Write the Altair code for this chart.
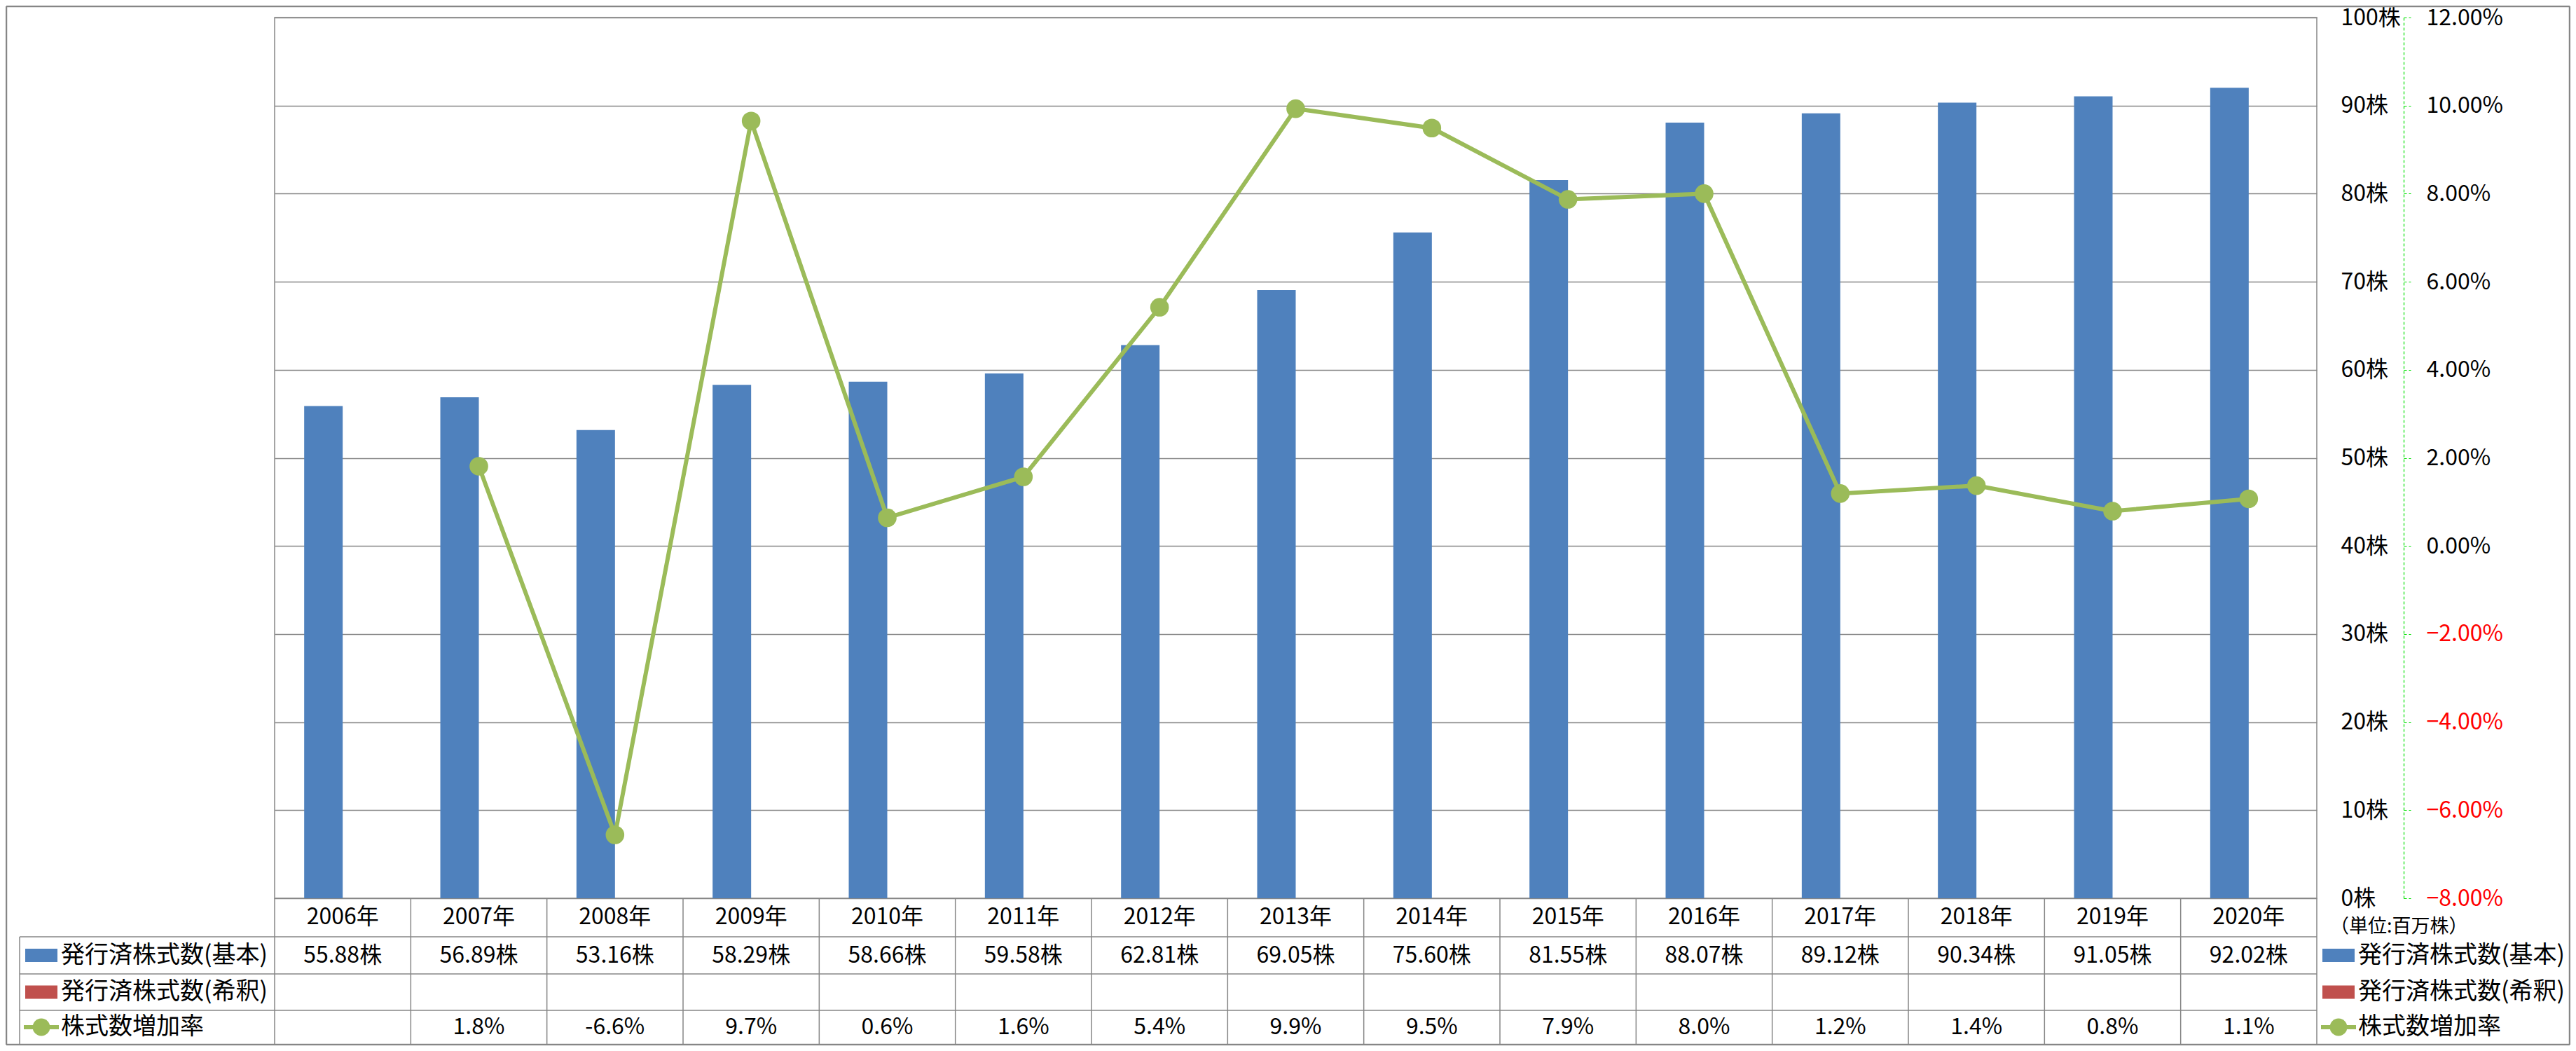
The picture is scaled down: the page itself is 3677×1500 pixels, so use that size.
import altair as alt
import pandas as pd

# ---- data ----
years = ["2006年", "2007年", "2008年", "2009年", "2010年", "2011年", "2012年", "2013年",
         "2014年", "2015年", "2016年", "2017年", "2018年", "2019年", "2020年"]
shares_basic = [55.88, 56.89, 53.16, 58.29, 58.66, 59.58, 62.81, 69.05,
                75.60, 81.55, 88.07, 89.12, 90.34, 91.05, 92.02]
growth_rate = [None, 1.81, -6.56, 9.65, 0.64, 1.57, 5.42, 9.93,
               9.49, 7.87, 8.00, 1.19, 1.37, 0.79, 1.07]
growth_labels = ["", "1.8%", "-6.6%", "9.7%", "0.6%", "1.6%", "5.4%", "9.9%",
                 "9.5%", "7.9%", "8.0%", "1.2%", "1.4%", "0.8%", "1.1%"]
series_names = ["発行済株式数(基本)", "発行済株式数(希釈)", "株式数増加率"]
bar_series = ["基本", "希釈"]
unit_note = "（単位:百万株）"
left_ticks = list(range(0, 101, 10))
right_ticks = list(range(-8, 13, 2))

# ---- styling / layout ----
FONT = "Noto Sans CJK JP"
FS = 32
LEG_FS = 34
BLUE = "#4F81BD"
RED = "#C0504D"
GREEN = "#9BBB59"
GRAY = "#868686"
TOP = 17
W, H = 2915, 1257
PAD = {"left": 384, "top": TOP, "right": 362, "bottom": 210}


def py(page_y):
    """page y -> plot y"""
    return page_y - 8 - TOP


ROW_LINES = [py(1337), py(1390), py(1442)]
TABLE_BOTTOM = py(1490)
ROW_Y = [py(1309), py(1363.5), py(1416), py(1466)]
LEFT_COL = -364

df = pd.DataFrame({
    "year": years,
    "shares": shares_basic,
    "series": bar_series[0],
    "rate": growth_rate,
    "rate_label": growth_labels,
})
df_rate = df.dropna(subset=["rate"])

xscale = alt.Scale(paddingInner=0, paddingOuter=0)
xenc = alt.X("year:N", sort=years, scale=xscale, axis=None)

bars = alt.Chart(df).mark_bar(color=BLUE).encode(
    x=xenc,
    xOffset=alt.XOffset("series:N", scale=alt.Scale(domain=bar_series, paddingInner=0,
                                                      paddingOuter=0.767)),
    y=alt.Y("shares:Q", scale=alt.Scale(domain=[0, 100], nice=False),
            axis=alt.Axis(orient="right", values=left_ticks, labelExpr="datum.value + '株'",
                          labelAlign="left", labelPadding=34, ticks=False, domain=False,
                          grid=True, gridColor=GRAY, gridWidth=1.5, labelFontSize=FS,
                          labelColor="black", title=None, labelFont=FONT)),
)

rate_axis = alt.Axis(orient="right", offset=124, values=right_ticks,
                     labelExpr="format(datum.value, '.2f') + '%'",
                     labelAlign="left", labelPadding=22, tickSize=10,
                     domainColor="#00E000", domainDash=[4, 3], domainWidth=1.2,
                     tickColor="#00E000", tickDash=[4, 3], tickWidth=1.2,
                     grid=False, labelFontSize=FS, labelFont=FONT, title=None,
                     labelColor={"expr": "datum.value < 0 ? '#FF0000' : '#000000'"})
rscale = alt.Scale(domain=[-8, 12], nice=False)

line = alt.Chart(df_rate).mark_line(color=GREEN, strokeWidth=6).encode(
    x=xenc, y=alt.Y("rate:Q", scale=rscale, axis=rate_axis))
pts = alt.Chart(df_rate).mark_circle(color=GREEN, size=707, opacity=1).encode(
    x=xenc, y=alt.Y("rate:Q", scale=rscale, axis=None))

# ---- data table ----
txt = dict(fontSize=FS, font=FONT, color="black", baseline="middle", align="center")
hdr = alt.Chart(df).mark_text(**txt).encode(x=xenc, y=alt.value(ROW_Y[0]), text="year:N")
vals = alt.Chart(df).transform_calculate(
    lab="format(datum.shares, '.2f') + '株'"
).mark_text(**txt).encode(x=xenc, y=alt.value(ROW_Y[1]), text="lab:N")
rlab = alt.Chart(df).mark_text(**txt).encode(x=xenc, y=alt.value(ROW_Y[3]), text="rate_label:N")

vlines = alt.Chart(df).mark_rule(color=GRAY, strokeWidth=1.5).encode(
    x=alt.X("year:N", sort=years, bandPosition=0, scale=xscale, axis=None),
    y=alt.value(H), y2=alt.value(TABLE_BOTTOM))
rframe = pd.DataFrame({"k": [0]})
right_edge = alt.Chart(rframe).mark_rule(color=GRAY, strokeWidth=1.5).encode(
    x=alt.value(W), y=alt.value(H), y2=alt.value(TABLE_BOTTOM))
left_col = alt.Chart(rframe).mark_rule(color=GRAY, strokeWidth=1.5).encode(
    x=alt.value(LEFT_COL), y=alt.value(ROW_LINES[0]), y2=alt.value(TABLE_BOTTOM))
hlines = [alt.Chart(rframe).mark_rule(color=GRAY, strokeWidth=1.5).encode(
    x=alt.value(LEFT_COL), x2=alt.value(W), y=alt.value(yy)) for yy in ROW_LINES]

# outer border
BL, BT, BR, BB = -383, -TOP + 1, W + PAD["right"] - 1, TABLE_BOTTOM + 1
border = [
    alt.Chart(rframe).mark_rule(color=GRAY, strokeWidth=2.5).encode(
        x=alt.value(BL), x2=alt.value(BR), y=alt.value(BT)),
    alt.Chart(rframe).mark_rule(color=GRAY, strokeWidth=2.5).encode(
        x=alt.value(BL), x2=alt.value(BR), y=alt.value(BB)),
    alt.Chart(rframe).mark_rule(color=GRAY, strokeWidth=2.5).encode(
        x=alt.value(BL), y=alt.value(BT), y2=alt.value(BB)),
    alt.Chart(rframe).mark_rule(color=GRAY, strokeWidth=2.5).encode(
        x=alt.value(BR), y=alt.value(BT), y2=alt.value(BB)),
]


# ---- legends (left row labels and right legend) ----
def legend_block(x0, xtext):
    layers = []
    for i, col in enumerate([BLUE, RED]):
        yc = ROW_Y[1 + i]
        layers.append(alt.Chart(rframe).mark_rect(color=col).encode(
            x=alt.value(x0), x2=alt.value(x0 + 46), y=alt.value(yc - 9.5), y2=alt.value(yc + 9.5)))
    yc = ROW_Y[3]
    layers.append(alt.Chart(rframe).mark_rule(color=GREEN, strokeWidth=6).encode(
        x=alt.value(x0 - 2), x2=alt.value(x0 + 48), y=alt.value(yc)))
    layers.append(alt.Chart(rframe).mark_circle(color=GREEN, size=620, opacity=1).encode(
        x=alt.value(x0 + 23), y=alt.value(yc)))
    for i, name in enumerate(series_names):
        layers.append(alt.Chart(rframe).mark_text(
            fontSize=LEG_FS, font=FONT, color="black", baseline="middle", align="left", text=name
        ).encode(x=alt.value(xtext), y=alt.value(ROW_Y[1 + i])))
    return layers


left_legend = legend_block(-356, -305)
right_legend = legend_block(2923, 2974)
unit = alt.Chart(rframe).mark_text(fontSize=27, font=FONT, color="black", baseline="middle",
                                   align="left", text=unit_note).encode(
    x=alt.value(2934), y=alt.value(py(1323)))

chart = alt.layer(
    bars, line, pts, hdr, vals, rlab, vlines, right_edge, left_col, *hlines,
    *left_legend, *right_legend, unit, *border
).resolve_scale(y="independent").properties(
    width=W, height=H,
    autosize=alt.AutoSizeParams(type="none"),
    padding=PAD,
).configure(font=FONT).configure_view(stroke=GRAY, strokeWidth=1.5)

chart.save("out.html", embed_options={"renderer": "svg", "actions": False})
